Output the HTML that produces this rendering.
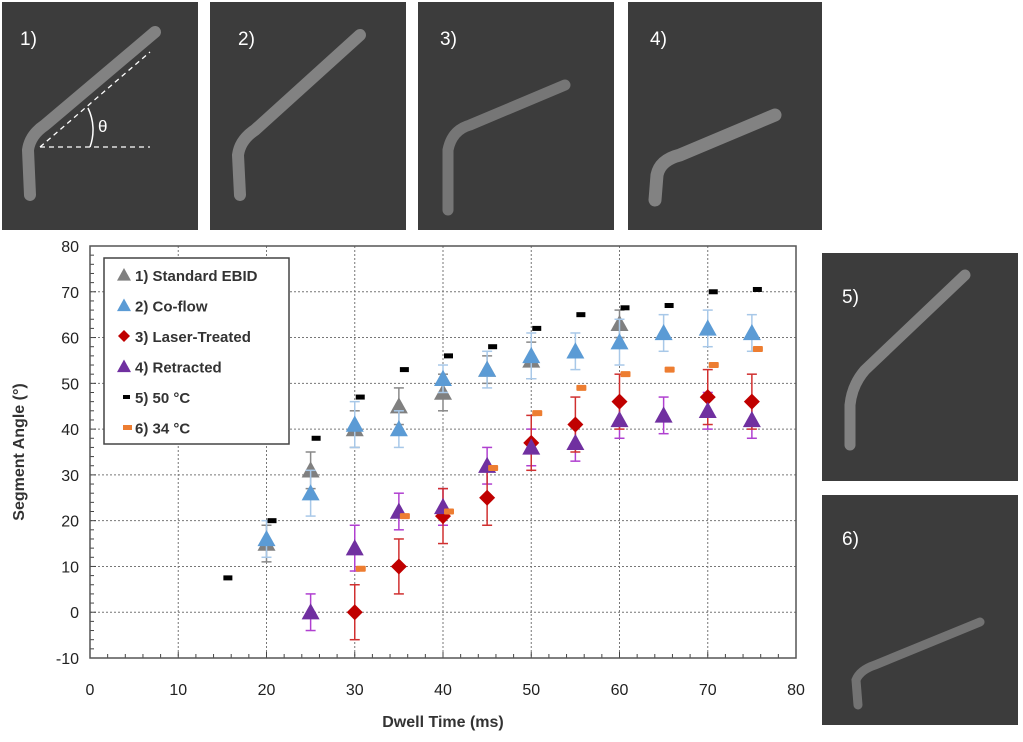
<!DOCTYPE html>
<html><head><meta charset="utf-8"><style>
body{margin:0;background:#fff;}
svg{display:block;font-family:"Liberation Sans",sans-serif;}
</style></head><body>
<svg width="1023" height="742" viewBox="0 0 1023 742">
<g id="panels">
  <g>
    <rect x="2" y="2" width="196" height="228" fill="#3c3c3c"/>
    <path d="M30 195 L28 150 Q30 135 45 125 L155 32" stroke="#9a9a9a" stroke-width="12" fill="none" stroke-linecap="round" opacity="0.75"/>
    <line x1="40" y1="147" x2="150" y2="147" stroke="#fff" stroke-dasharray="5,4" stroke-width="1.3"/>
    <line x1="40" y1="147" x2="150" y2="52" stroke="#fff" stroke-dasharray="5,4" stroke-width="1.3"/>
    <path d="M88 108 A50 50 0 0 1 90 147" stroke="#fff" fill="none" stroke-width="1.5"/>
    <text x="98" y="132" fill="#fff" font-size="17">θ</text>
    <text x="20" y="45" fill="#fff" font-size="19">1)</text>
  </g>
  <g>
    <rect x="210" y="2" width="196" height="228" fill="#3c3c3c"/>
    <path d="M240 195 L238 155 Q240 140 255 130 L360 35" stroke="#9a9a9a" stroke-width="12" fill="none" stroke-linecap="round" opacity="0.75"/>
    <text x="238" y="45" fill="#fff" font-size="19">2)</text>
  </g>
  <g>
    <rect x="418" y="2" width="196" height="228" fill="#3c3c3c"/>
    <path d="M448 210 L448 150 Q452 130 470 125 L565 85" stroke="#8a8a8a" stroke-width="11" fill="none" stroke-linecap="round" opacity="0.75"/>
    <text x="440" y="45" fill="#fff" font-size="19">3)</text>
  </g>
  <g>
    <rect x="628" y="2" width="194" height="228" fill="#3c3c3c"/>
    <path d="M655 200 L657 175 Q660 160 680 155 L775 115" stroke="#9a9a9a" stroke-width="13" fill="none" stroke-linecap="round" opacity="0.75"/>
    <text x="650" y="45" fill="#fff" font-size="19">4)</text>
  </g>
  <g>
    <rect x="822" y="253" width="196" height="228" fill="#3c3c3c"/>
    <path d="M850 445 L850 405 Q852 385 865 370 L965 275" stroke="#9a9a9a" stroke-width="11" fill="none" stroke-linecap="round" opacity="0.75"/>
    <text x="842" y="303" fill="#fff" font-size="19">5)</text>
  </g>
  <g>
    <rect x="822" y="495" width="196" height="230" fill="#3c3c3c"/>
    <path d="M858 705 L856 680 Q860 670 875 665 L980 622" stroke="#858585" stroke-width="9" fill="none" stroke-linecap="round" opacity="0.75"/>
    <text x="842" y="545" fill="#fff" font-size="19">6)</text>
  </g>
</g>
<g id="chart"></g>
</svg>
<script>
const xTicks=[0,10,20,30,40,50,60,70,80];
const yTicks=[-10,0,10,20,30,40,50,60,70,80];
const xStd=[20,25,30,35,40,45,50,60];
const yStd=[15,31,40,45,48,53,55,63];
const eStd=[4,4,4,4,4,3,4,3];
const xCo=[20,25,30,35,40,45,50,55,60,65,70,75];
const yCo=[16,26,41,40,51,53,56,57,59,61,62,61];
const eCo=[4,5,5,4,3,4,5,4,5,4,4,4];
const xLa=[30,35,40,45,50,55,60,70,75];
const yLa=[0,10,21,25,37,41,46,47,46];
const eLa=[6,6,6,6,6,6,6,6,6];
const xRe=[25,30,35,40,45,50,55,60,65,70,75];
const yRe=[0,14,22,23,32,36,37,42,43,44,42];
const eRe=[4,5,4,4,4,4,4,4,4,4,4];
const x50=[15,20,25,30,35,40,45,50,55,60,65,70,75];
const y50=[7.5,20,38,47,53,56,58,62,65,66.5,67,70,70.5];
const x34=[30,35,40,45,50,55,60,65,70,75];
const y34=[9.5,21,22,31.5,43.5,49,52,53,54,57.5];

const L=90,R=796,T=246,B=658;
const X=v=>L+(v-0)/80*(R-L);
const Y=v=>B-(v+10)/90*(B-T);
const g=document.getElementById('chart');
const NS='http://www.w3.org/2000/svg';
function mk(t,a,p){const e=document.createElementNS(NS,t);for(const k in a)e.setAttribute(k,a[k]);(p||g).appendChild(e);return e;}

for(const v of xTicks){if(v===0||v===80)continue;
 const l=mk('line',{x1:X(v),x2:X(v),y1:T,y2:B,stroke:'#777','stroke-dasharray':'2,2','stroke-width':1});
 
 }
for(const v of yTicks){if(v===-10||v===80)continue;
 const l=mk('line',{x1:L,x2:R,y1:Y(v),y2:Y(v),stroke:'#777','stroke-dasharray':'2,2','stroke-width':1});
 
 }
for(let v=0;v<=80;v+=2){mk('line',{x1:X(v),x2:X(v),y1:B,y2:B-(v%10?4:6),stroke:'#444'});}
for(let v=-10;v<=80;v+=2){mk('line',{x1:L,x2:L+(v%10?4:6),y1:Y(v),y2:Y(v),stroke:'#444'});}
const fr=mk('rect',{x:L,y:T,width:R-L,height:B-T,fill:'none',stroke:'#555','stroke-width':1.5});


for(const v of xTicks){const t=mk('text',{x:X(v),y:B+37,'text-anchor':'middle','font-size':16,fill:'#222'});t.textContent=v;
 
 }
for(const v of yTicks){const t=mk('text',{x:L-11,y:Y(v)+6,'text-anchor':'end','font-size':16,fill:'#222'});t.textContent=v;
 
 }
const xt=mk('text',{x:443,y:727,'text-anchor':'middle','font-size':16,'font-weight':'bold',fill:'#333'});xt.textContent='Dwell Time (ms)';


const yt=mk('text',{x:0,y:0,'text-anchor':'middle','font-size':16,'font-weight':'bold',fill:'#333',transform:`translate(24,${(T+B)/2}) rotate(-90)`});yt.textContent='Segment Angle (°)';



function err(x,y,e,c,dx){const cx=X(x)+(dx||0);
 mk('line',{x1:cx,x2:cx,y1:Y(y-e),y2:Y(y+e),stroke:c,'stroke-width':1.5});
 mk('line',{x1:cx-5,x2:cx+5,y1:Y(y-e),y2:Y(y-e),stroke:c,'stroke-width':1.5});
 mk('line',{x1:cx-5,x2:cx+5,y1:Y(y+e),y2:Y(y+e),stroke:c,'stroke-width':1.5});}
function tri(cx,cy,c,s){return mk('path',{d:`M${cx} ${cy-s} L${cx+s} ${cy+s*0.8} L${cx-s} ${cy+s*0.8}Z`,fill:c});}
function dia(cx,cy,c,s){return mk('path',{d:`M${cx} ${cy-s} L${cx+s} ${cy} L${cx} ${cy+s} L${cx-s} ${cy}Z`,fill:c});}

xStd.forEach((x,i)=>{err(x,yStd[i],eStd[i],'#888');const m=tri(X(x),Y(yStd[i]),'#808080',9);
 
 });
xCo.forEach((x,i)=>{err(x,yCo[i],eCo[i],'#a8c8e8');const m=tri(X(x),Y(yCo[i]),'#5b9bd5',9);
 
 });
xRe.forEach((x,i)=>{err(x,yRe[i],eRe[i],'#b040d0');});
xLa.forEach((x,i)=>{err(x,yLa[i],eLa[i],'#d03030');const m=dia(X(x),Y(yLa[i]),'#c00000',8);
 
 });
xRe.forEach((x,i)=>{const m=tri(X(x),Y(yRe[i]),'#7030a0',9);
 
 });
x50.forEach((x,i)=>{const m=mk('rect',{x:X(x)+1,y:Y(y50[i])-2.5,width:9,height:5,fill:'#000'});
 
 });
x34.forEach((x,i)=>{const m=mk('rect',{x:X(x)+1,y:Y(y34[i])-3,width:10,height:6,rx:1,fill:'#ed7d31'});
 
 });

const lg=mk('g',{});


mk('rect',{x:104,y:258,width:185,height:186,fill:'#fff',stroke:'#444','stroke-width':1.5},lg);
const lab=['1) Standard EBID','2) Co-flow','3) Laser-Treated','4) Retracted','5) 50 °C','6) 34 °C'];
lab.forEach((s,i)=>{const cy=275+i*30.5;
 if(i===0)tri(124,cy,'#808080',7);
 if(i===1)tri(124,cy,'#5b9bd5',7);
 if(i===2)dia(124,cy,'#c00000',6);
 if(i===3)tri(124,cy,'#7030a0',7);
 if(i===4)mk('rect',{x:123,y:cy-2,width:7,height:4,fill:'#000'});
 if(i===5)mk('rect',{x:123,y:cy-2.5,width:9,height:5,fill:'#ed7d31'});
 const t=mk('text',{x:135,y:cy+6,'font-size':15,'font-weight':'bold',fill:'#333'});t.textContent=s;
 
 });
</script>
</body></html>
